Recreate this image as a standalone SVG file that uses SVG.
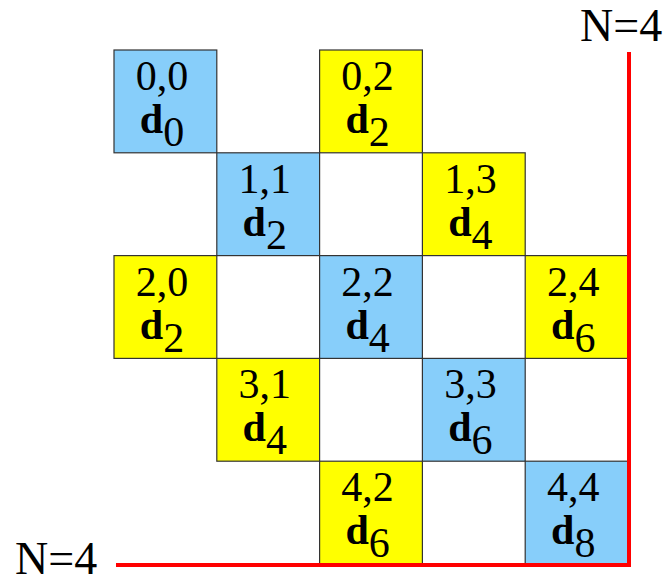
<svg xmlns="http://www.w3.org/2000/svg" width="670" height="583" viewBox="0 0 670 583">
<style>
.c{stroke:#333;stroke-width:1.2}
.b{fill:#87CEFA}
.y{fill:#FFFF00}
text{font-family:"Liberation Serif","Times New Roman",serif;font-size:42px;fill:#000;text-anchor:middle}
.bd{font-weight:bold}
.lbl{font-size:46px;text-anchor:start}
</style>
<rect width="670" height="583" fill="#fff"/>
<g id="n00"><rect class="c b" x="114" y="50" width="102.8" height="102.8"/><text x="162" y="90">0,0</text><text x="162" y="133"><tspan class="bd">d</tspan><tspan dy="13">0</tspan></text></g>
<g id="n02"><rect class="c y" x="319.6" y="50" width="102.8" height="102.8"/><text x="367.6" y="90">0,2</text><text x="367.6" y="133"><tspan class="bd">d</tspan><tspan dy="13">2</tspan></text></g>
<g id="n11"><rect class="c b" x="216.8" y="152.8" width="102.8" height="102.8"/><text x="264.8" y="192.8">1,1</text><text x="264.8" y="235.8"><tspan class="bd">d</tspan><tspan dy="13">2</tspan></text></g>
<g id="n13"><rect class="c y" x="422.4" y="152.8" width="102.8" height="102.8"/><text x="470.4" y="192.8">1,3</text><text x="470.4" y="235.8"><tspan class="bd">d</tspan><tspan dy="13">4</tspan></text></g>
<g id="n20"><rect class="c y" x="114" y="255.6" width="102.8" height="102.8"/><text x="162" y="295.6">2,0</text><text x="162" y="338.6"><tspan class="bd">d</tspan><tspan dy="13">2</tspan></text></g>
<g id="n22"><rect class="c b" x="319.6" y="255.6" width="102.8" height="102.8"/><text x="367.6" y="295.6">2,2</text><text x="367.6" y="338.6"><tspan class="bd">d</tspan><tspan dy="13">4</tspan></text></g>
<g id="n24"><rect class="c y" x="525.2" y="255.6" width="102.8" height="102.8"/><text x="573.2" y="295.6">2,4</text><text x="573.2" y="338.6"><tspan class="bd">d</tspan><tspan dy="13">6</tspan></text></g>
<g id="n31"><rect class="c y" x="216.8" y="358.4" width="102.8" height="102.8"/><text x="264.8" y="398.4">3,1</text><text x="264.8" y="441.4"><tspan class="bd">d</tspan><tspan dy="13">4</tspan></text></g>
<g id="n33"><rect class="c b" x="422.4" y="358.4" width="102.8" height="102.8"/><text x="470.4" y="398.4">3,3</text><text x="470.4" y="441.4"><tspan class="bd">d</tspan><tspan dy="13">6</tspan></text></g>
<g id="n42"><rect class="c y" x="319.6" y="461.2" width="102.8" height="102.8"/><text x="367.6" y="501.2">4,2</text><text x="367.6" y="544.2"><tspan class="bd">d</tspan><tspan dy="13">6</tspan></text></g>
<g id="n44"><rect class="c b" x="525.2" y="461.2" width="102.8" height="102.8"/><text x="573.2" y="501.2">4,4</text><text x="573.2" y="544.2"><tspan class="bd">d</tspan><tspan dy="13">8</tspan></text></g>
<g id="connectors"><path d="M116,565 H629 V52" fill="none" stroke="#f00" stroke-width="4"/></g>
<g id="labels"><text class="lbl" x="580" y="41">N=4</text><text class="lbl" x="15" y="574">N=4</text></g>
</svg>
